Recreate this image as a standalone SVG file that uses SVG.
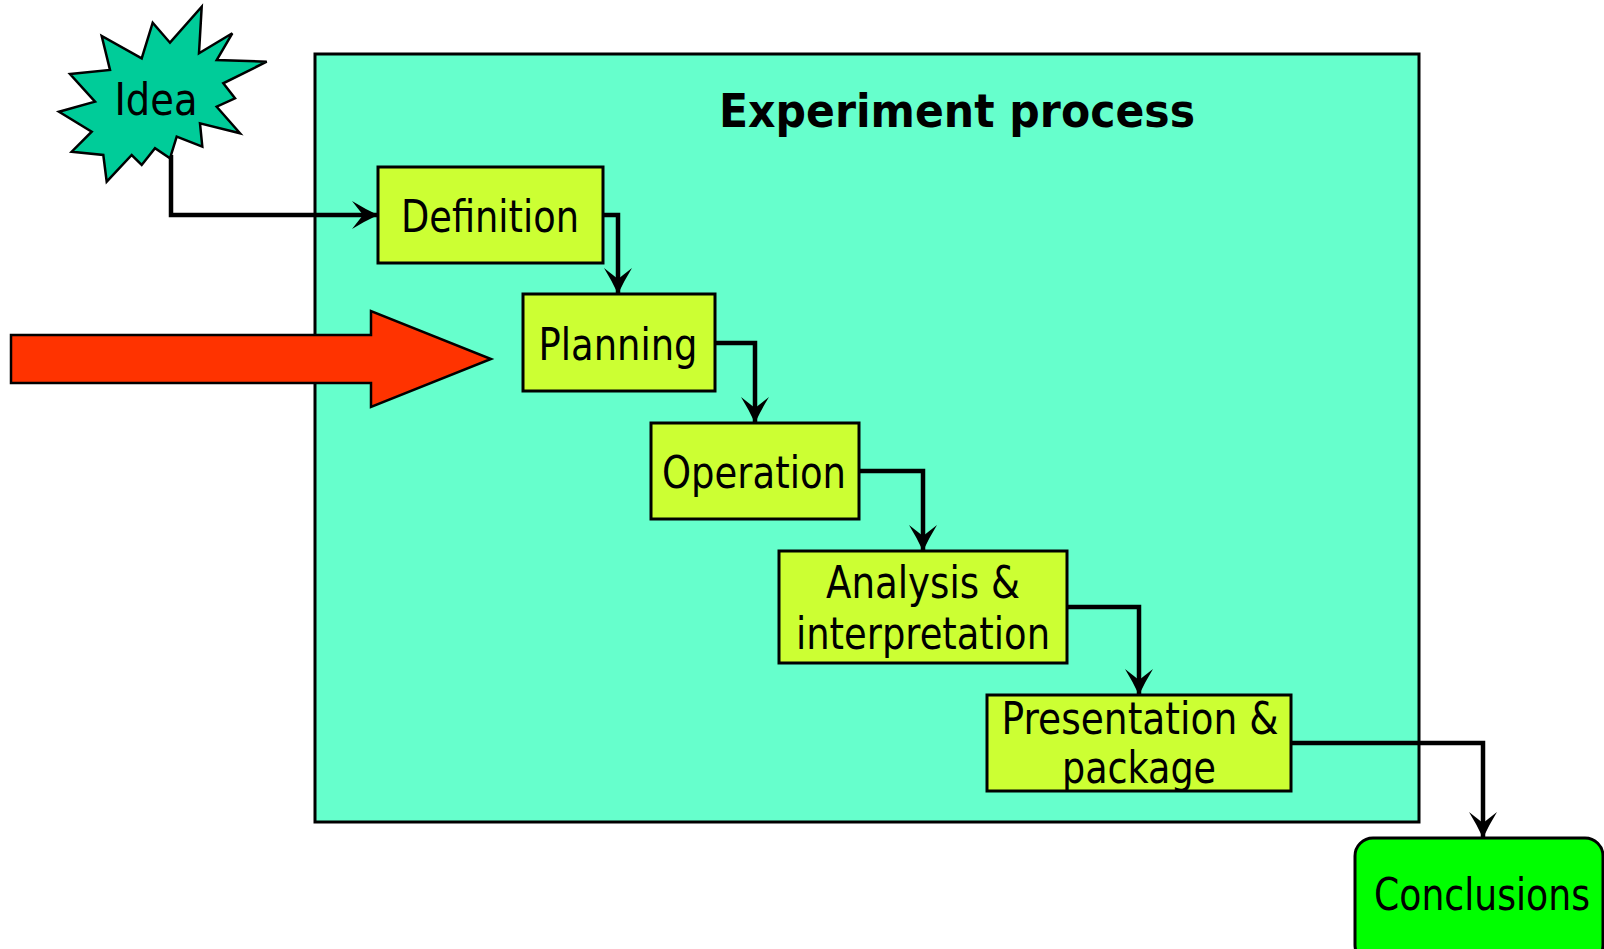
<svg xmlns="http://www.w3.org/2000/svg" width="1604" height="949" viewBox="0 0 1604 949">
  <style>
    .lbl { font-family: "DejaVu Sans", Verdana, sans-serif; font-size: 44px; fill: #000; text-anchor: middle; }
    .title { font-family: "DejaVu Sans", Verdana, sans-serif; font-size: 47px; font-weight: bold; fill: #000; text-anchor: middle; }
    .step { fill: #CCFF33; stroke: #000; stroke-width: 3; }
    .conn { fill: none; stroke: #000; stroke-width: 4.5; stroke-linejoin: miter; }
  </style>
  <defs>
    <!-- stealth-style arrowhead with slightly concave flanks -->
    <marker id="head" markerUnits="userSpaceOnUse" viewBox="-30 -16 32 32" markerWidth="32" markerHeight="32" refX="0" refY="0" orient="auto">
      <path d="M0,0 Q-13,-6 -26,-14 L-15,0 L-26,14 Q-13,6 0,0 Z" fill="#000"/>
    </marker>
  </defs>

  <rect width="1604" height="949" fill="#FFFFFF"/>

  <!-- process frame -->
  <g id="process">
    <rect x="315" y="54" width="1104" height="768" fill="#66FFCC" stroke="#000" stroke-width="3"/>
    <text class="title" x="957" y="127" textLength="476" lengthAdjust="spacingAndGlyphs">Experiment process</text>
  </g>

  <!-- incoming block arrow -->
  <g id="input-arrow">
    <polygon points="11,335 371,335 371,311 491,359 371,407 371,383 11,383" fill="#FF3300" stroke="#000" stroke-width="2.5"/>
  </g>

  <!-- connectors -->
  <g id="connectors">
    <path class="conn" d="M171,155 V215 H378" marker-end="url(#head)"/>
    <path class="conn" d="M603,215 H618 V294" marker-end="url(#head)"/>
    <path class="conn" d="M715,343 H755 V423" marker-end="url(#head)"/>
    <path class="conn" d="M859,471 H923 V551" marker-end="url(#head)"/>
    <path class="conn" d="M1067,607 H1139 V695" marker-end="url(#head)"/>
    <path class="conn" d="M1291,743 H1483 V838" marker-end="url(#head)"/>
  </g>

  <g id="idea">
    <polygon points="201.7,6.7 199,53.3 232.3,33.3 216.7,60 266.7,61.7 223.3,83.3 235,98.3 216.7,106.7 240,133.3 200,123.3 202.3,146.7 176.7,136.7 170,158.3 155,148.3 141.7,165 131.7,155 106.7,181.7 103.3,155 71.7,151.7 91.7,131.7 59,111.7 95,101.7 70,74 110,70 101.7,36 141.7,58.3 152.7,22.7 170,42.7" fill="#00CC99" stroke="#000" stroke-width="2.5"/>
    <text class="lbl" x="156" y="115" textLength="83" lengthAdjust="spacingAndGlyphs">Idea</text>
  </g>

  <g id="definition">
    <rect class="step" x="378" y="167" width="225" height="96"/>
    <text class="lbl" x="490" y="232" textLength="178" lengthAdjust="spacingAndGlyphs">Definition</text>
  </g>

  <g id="planning">
    <rect class="step" x="523" y="294" width="192" height="97"/>
    <text class="lbl" x="618" y="360" textLength="159" lengthAdjust="spacingAndGlyphs">Planning</text>
  </g>

  <g id="operation">
    <rect class="step" x="651" y="423" width="208" height="96"/>
    <text class="lbl" x="754" y="488" textLength="184" lengthAdjust="spacingAndGlyphs">Operation</text>
  </g>

  <g id="analysis">
    <rect class="step" x="779" y="551" width="288" height="112"/>
    <text class="lbl" x="923" y="598" textLength="194" lengthAdjust="spacingAndGlyphs">Analysis &amp;</text>
    <text class="lbl" x="923" y="649" textLength="254" lengthAdjust="spacingAndGlyphs">interpretation</text>
  </g>

  <g id="presentation">
    <rect class="step" x="987" y="695" width="304" height="96"/>
    <text class="lbl" x="1140" y="734" textLength="277" lengthAdjust="spacingAndGlyphs">Presentation &amp;</text>
    <text class="lbl" x="1139" y="783" textLength="154" lengthAdjust="spacingAndGlyphs">package</text>
  </g>

  <g id="conclusions">
    <rect x="1355" y="838" width="248" height="125" rx="18" ry="18" fill="#00FF00" stroke="#000" stroke-width="3"/>
    <text class="lbl" x="1482" y="910" textLength="216" lengthAdjust="spacingAndGlyphs">Conclusions</text>
  </g>
</svg>
